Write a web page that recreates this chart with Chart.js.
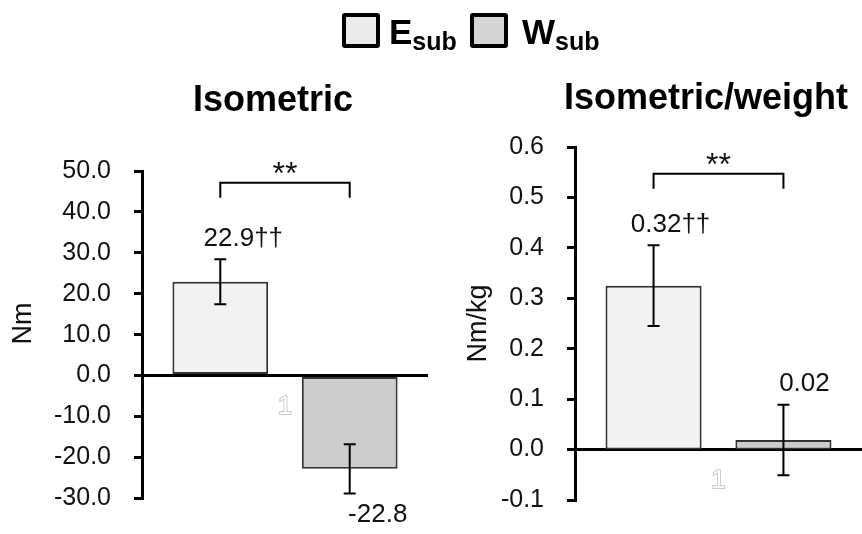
<!DOCTYPE html>
<html><head><meta charset="utf-8">
<script src="https://cdn.jsdelivr.net/npm/chart.js@4.4.1/dist/chart.umd.min.js"></script>
<style>
html,body{margin:0;padding:0;background:#fff;}
#wrap{position:relative;width:862px;height:534px;overflow:hidden;font-family:'Liberation Sans',Arial,sans-serif;color:#000;}
.cv{position:absolute;top:0;}
.sq{position:absolute;top:13px;width:38px;height:35px;box-sizing:border-box;border:4px solid #000;border-radius:3px;}
.lg{position:absolute;top:13.7px;font-size:35px;line-height:35px;font-weight:bold;white-space:nowrap;}
.lg .sb{font-size:25px;position:relative;top:6.7px;}
.ttl{position:absolute;font-size:36px;line-height:36px;font-weight:bold;text-align:center;white-space:nowrap;}
</style></head><body>
<div id="wrap">
  <canvas id="leftChart" class="cv" width="450" height="560" style="left:0"></canvas>
  <canvas id="rightChart" class="cv" width="412" height="560" style="left:450px"></canvas>
  <div class="sq" style="left:342px;background:#ebebeb"></div>
  <div class="lg" style="left:389px">E<span class="sb">sub</span></div>
  <div class="sq" style="left:470px;background:#d5d5d5"></div>
  <div class="lg" style="left:522px">W<span class="sb">sub</span></div>
  <div class="ttl" style="left:123px;width:300px;top:81px">Isometric</div>
  <div class="ttl" style="left:556px;width:300px;top:79px">Isometric/weight</div>
</div>
<script>
// ---- data ----
const categories = ['1'];
const seriesNames = ['Esub', 'Wsub'];
const isoE = [22.9];
const isoW = [-22.8];
const isoErrE = [5.5];
const isoErrW = [6.0];
const isoLabelsE = ['22.9††'];
const isoLabelsW = ['-22.8'];
const wtE = [0.325];
const wtW = [0.019];
const wtErrE = [0.08];
const wtErrW = [0.07];
const wtLabelsE = ['0.32††'];
const wtLabelsW = ['0.02'];

const FONT = "'Liberation Sans', Arial, sans-serif";
const colE = '#f2f2f2', colW = '#cccccc';

const errorBars = {
  id: 'errorBars',
  afterDatasetsDraw(chart) {
    const ctx = chart.ctx, y = chart.scales.y;
    chart.data.datasets.forEach((ds, i) => {
      const meta = chart.getDatasetMeta(i);
      meta.data.forEach((bar, j) => {
        const v = ds.data[j], e = ds.errors[j];
        const yt = y.getPixelForValue(v + e), yb = y.getPixelForValue(v - e);
        ctx.save();
        ctx.strokeStyle = '#000'; ctx.lineWidth = 2;
        ctx.beginPath();
        ctx.moveTo(bar.x, yt); ctx.lineTo(bar.x, yb);
        ctx.moveTo(bar.x - 6, yt); ctx.lineTo(bar.x + 6, yt);
        ctx.moveTo(bar.x - 6, yb); ctx.lineTo(bar.x + 6, yb);
        ctx.stroke();
        ctx.restore();
      });
    });
  }
};

const valueLabels = {
  id: 'valueLabels',
  afterDatasetsDraw(chart, args, opts) {
    const ctx = chart.ctx, y = chart.scales.y;
    chart.data.datasets.forEach((ds, i) => {
      const meta = chart.getDatasetMeta(i);
      meta.data.forEach((bar, j) => {
        const v = ds.data[j], e = ds.errors[j];
        let py;
        if (v >= 0) py = y.getPixelForValue(v + e) - opts.gap;
        else py = y.getPixelForValue(v - e) + opts.gap;
        ctx.save();
        ctx.fillStyle = '#111';
        ctx.font = '26px ' + FONT;
        ctx.textAlign = 'center';
        ctx.textBaseline = 'middle';
        ctx.fillText(ds.valueLabels[j], bar.x + opts.dx[i], py);
        ctx.restore();
      });
    });
  }
};

const bracket = {
  id: 'bracket',
  afterDatasetsDraw(chart, args, opts) {
    const ctx = chart.ctx, y = chart.scales.y;
    const b0 = chart.getDatasetMeta(0).data[0], b1 = chart.getDatasetMeta(1).data[0];
    const py = y.getPixelForValue(opts.value);
    ctx.save();
    ctx.strokeStyle = '#000'; ctx.lineWidth = 2;
    ctx.beginPath();
    ctx.moveTo(b0.x, py + opts.leg); ctx.lineTo(b0.x, py); ctx.lineTo(b1.x, py); ctx.lineTo(b1.x, py + opts.leg);
    ctx.stroke();
    ctx.fillStyle = '#111';
    ctx.font = '32px ' + FONT;
    ctx.textAlign = 'center';
    ctx.textBaseline = 'alphabetic';
    ctx.fillText(opts.text, (b0.x + b1.x) / 2, py + 1);
    ctx.restore();
  }
};

function makeChart(id, cfg) {
  return new Chart(document.getElementById(id), {
    type: 'bar',
    data: {
      labels: categories,
      datasets: [
        { label: seriesNames[0], data: cfg.e, errors: cfg.errE, valueLabels: cfg.labE,
          backgroundColor: colE, borderColor: '#333', borderWidth: 2, borderSkipped: false },
        { label: seriesNames[1], data: cfg.w, errors: cfg.errW, valueLabels: cfg.labW,
          backgroundColor: colW, borderColor: '#333', borderWidth: 2, borderSkipped: false }
      ]
    },
    options: {
      responsive: false,
      animation: false,
      categoryPercentage: 0.905,
      barPercentage: 0.74,
      layout: { padding: cfg.padding },
      plugins: {
        legend: { display: false },
        tooltip: { enabled: false },
        title: { display: false },
        valueLabels: { dx: cfg.dx, gap: 21 },
        bracket: { value: cfg.bracketY, leg: 15, text: '**' }
      },
      scales: {
        x: {
          type: 'category',
          position: { y: 0 },
          grid: { display: false, drawTicks: false },
          border: { display: false },
          ticks: { color: '#ffffff', textStrokeColor: '#bdbdbd', textStrokeWidth: 1.5,
                   font: { family: FONT, size: 26 }, padding: 16 }
        },
        y: {
          z: 1,
          min: cfg.min, max: cfg.max,
          afterFit: s => { s.width = cfg.axisW; },
          ticks: { stepSize: cfg.step, color: '#111', padding: 23,
                   font: { family: FONT, size: 25 },
                   callback: v => (Math.abs(v) < 1e-9 ? 0 : Number(v)).toFixed(1) },
          grid: {
            color: c => (c.tick && Math.abs(c.tick.value) < 1e-9) ? '#000' : 'rgba(0,0,0,0)',
            lineWidth: 3, tickColor: '#000', tickWidth: 3, tickLength: 8, drawTicks: true
          },
          border: { display: true, color: '#000', width: 3 },
          title: { display: true, text: cfg.yTitle, color: '#111',
                   font: { family: FONT, size: 27 }, padding: { top: cfg.titlePad, bottom: 0 } }
        }
      }
    },
    plugins: [errorBars, valueLabels, bracket]
  });
}

makeChart('leftChart', {
  e: isoE, w: isoW, errE: isoErrE, errW: isoErrW, labE: isoLabelsE, labW: isoLabelsW,
  min: -30, max: 50, step: 10, yTitle: '   Nm', titlePad: 7, axisW: 142,
  padding: { left: 0, right: 22, top: 171, bottom: 61.7 },
  dx: [23, 28], bracketY: 47.1
});
makeChart('rightChart', {
  e: wtE, w: wtW, errE: wtErrE, errW: wtErrW, labE: wtLabelsE, labW: wtLabelsW,
  min: -0.1, max: 0.6, step: 0.1, yTitle: 'Nm/kg', titlePad: 12, axisW: 125,
  padding: { left: 0, right: 0, top: 147, bottom: 60 },
  dx: [17, 21], bracketY: 0.547
});
</script>
</body></html>
